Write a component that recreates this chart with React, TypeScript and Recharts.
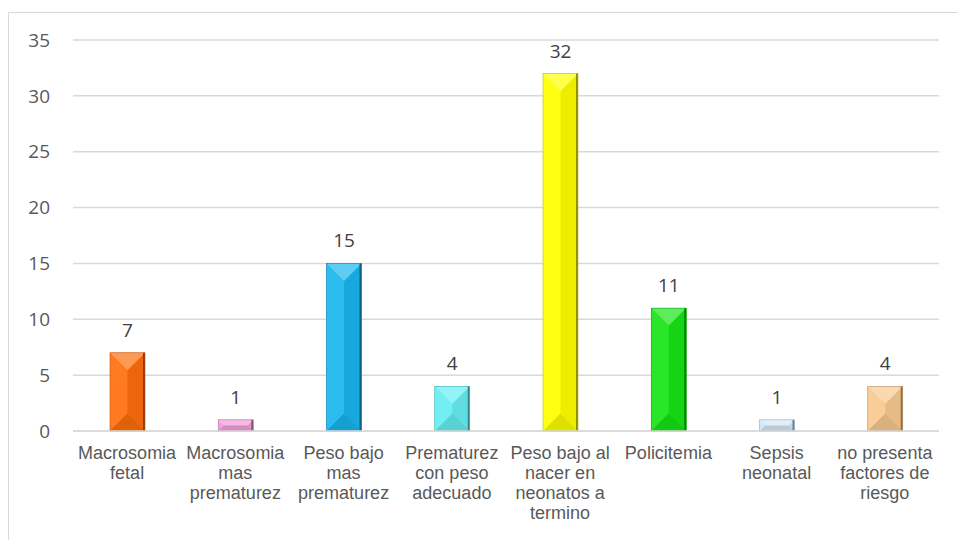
import { BarChart, Bar, XAxis, YAxis, CartesianGrid, Cell, LabelList } from "recharts";

// categories wrap onto the lines shown under each bar
const categories = [
  "Macrosomia\nfetal",
  "Macrosomia\nmas\nprematurez",
  "Peso bajo\nmas\nprematurez",
  "Prematurez\ncon peso\nadecuado",
  "Peso bajo al\nnacer en\nneonatos a\ntermino",
  "Policitemia",
  "Sepsis\nneonatal",
  "no presenta\nfactores de\nriesgo",
];
const casos = [7, 1, 15, 4, 32, 11, 1, 4];
const barColors = ["#FF6E0E", "#F29ED8", "#19B6EE", "#66EEF2", "#FFFF00", "#16E416", "#D3E6F6", "#F8C98F"];
const yTicks = [0, 5, 10, 15, 20, 25, 30, 35];

const data = categories.map((name, i) => ({ name, value: casos[i], color: barColors[i] }));

function mix(hex: string, target: number, amt: number) {
  const n = parseInt(hex.slice(1), 16);
  const ch = [(n >> 16) & 255, (n >> 8) & 255, n & 255].map((c) => Math.round(c + (target - c) * amt));
  return `rgb(${ch[0]},${ch[1]},${ch[2]})`;
}

// bevelled bar: light top and left facets, darker right and bottom
function BevelBar(props: any) {
  const { x, y, width: w, height: h, payload } = props;
  if (!h || h <= 0) return null;
  const base: string = payload.color;
  const b = Math.min(w / 2, h / 2);
  const p = (pts: number[][]) => pts.map((q) => q.join(",")).join(" ");
  return (
    <g>
      <rect x={x} y={y} width={w} height={h} fill={base} />
      <polygon points={p([[x, y], [x + b, y + b], [x + b, y + h - b], [x, y + h]])} fill={mix(base, 255, 0.08)} />
      <polygon points={p([[x + w, y], [x + w, y + h], [x + w - b, y + h - b], [x + w - b, y + b]])} fill={mix(base, 0, 0.07)} />
      <polygon points={p([[x, y], [x + w, y], [x + w - b, y + b], [x + b, y + b]])} fill={mix(base, 255, 0.3)} />
      <polygon points={p([[x, y + h], [x + b, y + h - b], [x + w - b, y + h - b], [x + w, y + h]])} fill={mix(base, 0, 0.12)} />
      <rect x={x + w - 2} y={y} width={2} height={h} fill={mix(base, 0, 0.45)} />
      <rect x={x} y={y} width={w} height={h} fill="none" stroke={mix(base, 0, 0.25)} strokeWidth={0.6} />
    </g>
  );
}

function CategoryTick(props: any) {
  const { x, y, payload } = props;
  const lines = String(payload.value).split("\n");
  return (
    <text x={x} y={y} textAnchor="middle" fill="#595959" fontSize={18} fontFamily="'Liberation Sans', Arial, sans-serif">
      {lines.map((line, i) => (
        <tspan key={i} x={x} dy={i === 0 ? 28 : 20}>
          {line}
        </tspan>
      ))}
    </text>
  );
}

export default function App() {
  return (
    <div style={{ position: "absolute", left: 0, top: 0, width: 958, height: 540, overflow: "hidden", background: "#fff" }}>
      <style>{`body{margin:0;overflow:hidden}`}</style>
      <div
        style={{
          position: "absolute",
          left: 8,
          top: 12,
          width: 960,
          height: 540,
          borderLeft: "1px solid #d9d9d9",
          borderTop: "1px solid #d9d9d9",
        }}
      >
        <BarChart width={950} height={527} data={data} margin={{ top: 27, right: 20, left: 0, bottom: 5 }}>
          <CartesianGrid vertical={false} stroke="#d9d9d9" strokeWidth={1.5} />
          <XAxis
            dataKey="name"
            interval={0}
            height={104}
            tickSize={0}
            tickMargin={0}
            axisLine={{ stroke: "#d9d9d9", strokeWidth: 1.5 }}
            tickLine={false}
            tick={<CategoryTick />}
          />
          <YAxis
            domain={[0, 35]}
            ticks={yTicks}
            width={64}
            tickSize={0}
            tickMargin={23}
            axisLine={false}
            tickLine={false}
            tick={{ fill: "#595959", fontSize: 19, fontFamily: "'Open Sans', sans-serif" }}
          />
          <Bar dataKey="value" barSize={35} shape={<BevelBar />} isAnimationActive={false}>
            {data.map((d, i) => (
              <Cell key={i} fill={d.color} />
            ))}
            <LabelList
              dataKey="value"
              position="top"
              offset={16}
              fill="#404040"
              fontSize={19}
              fontFamily="'Open Sans', sans-serif"
            />
          </Bar>
        </BarChart>
      </div>
    </div>
  );
}
